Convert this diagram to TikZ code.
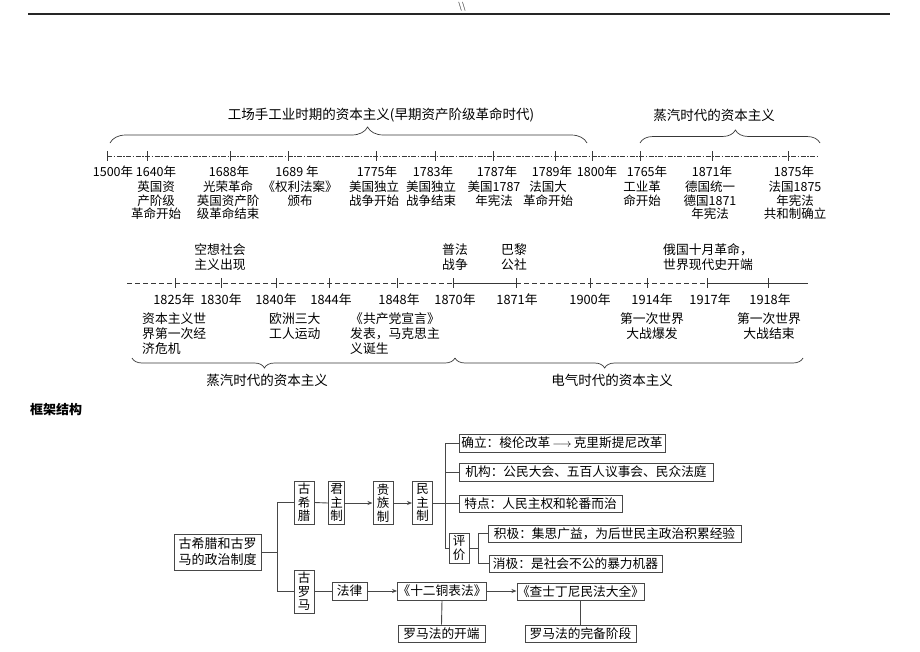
\documentclass[tikz,border=0pt]{standalone}
\usepackage{fontspec}
\setmainfont{Noto Sans CJK SC}
\usetikzlibrary{decorations.pathreplacing,arrows.meta}
\begin{document}
\begin{tikzpicture}[x=1pt,y=-1pt,
  ink/.style={draw=black!78},
  tlone/.style={ink,line width=0.8pt,dash pattern=on 5pt off 1.5pt on 1.5pt off 1.5pt},
  tltwo/.style={ink,line width=0.8pt,dash pattern=on 5pt off 3pt},
  tlsolid/.style={ink,line width=0.8pt},
  tickmark/.style={ink,line width=0.8pt},
  lbl/.style={font=\fontsize{12.5}{13.5}\selectfont,align=center,inner sep=0pt,text=black},
  lbltwo/.style={font=\fontsize{12.8}{15}\selectfont,align=center,inner sep=0pt,text=black},
  ttl/.style={font=\fontsize{13.5}{15}\selectfont,inner sep=0pt,text=black},
  brc/.style={ink,line width=0.7pt,decorate},
  box/.style={draw=black!72,line width=1pt,inner sep=0pt,align=center,font=\fontsize{12.7}{13.8}\selectfont,text=black},
  conn/.style={draw=black!72,line width=0.9pt},
  arr/.style={conn,-{Stealth[length=5pt,width=4pt]}}
]
\useasboundingbox (0,0) rectangle (920,651);
% header
\node[inner sep=0pt,font=\fontsize{9}{9}\selectfont\rmfamily,text=black!80] (hdr) at (462,6.5) {\textbackslash\textbackslash};
\coordinate (hl) at (28,14);
\coordinate (hr) at (890,14);
\draw[black!85,line width=1.1pt] (hl) -- (hr);

% ---------- timeline 1 ----------
\foreach \n/\x in {0/107,1/147,2/230,3/288,4/376,5/435,6/493,7/555,8/592,9/640,10/712,11/788}
  \coordinate (A\n) at (\x,156);
\coordinate (Aend) at (818,156);
\draw[tlone] (A0) -- (Aend);
\foreach \n in {0,...,11} \draw[tickmark] ([yshift=5pt]A\n) -- ([yshift=-5pt]A\n);

\node[lbl] (y1500) at (113,172) {1500年};
\node[lbl] (y1640) at (156,172) {1640年};
\node[lbl,anchor=north] (d1640) at (156,181) {英国资\\产阶级\\革命开始};
\node[lbl] (y1688) at (229,172) {1688年};
\node[lbl,anchor=north] (d1688) at (228,181) {光荣革命\\英国资产阶\\级革命结束};
\node[lbl] (y1689) at (297,172) {1689 年};
\node[lbl,anchor=north] (d1689) at (300,181) {《权利法案》\\颁布};
\node[lbl] (y1775) at (377,172) {1775年};
\node[lbl,anchor=north] (d1775) at (374,181) {美国独立\\战争开始};
\node[lbl] (y1783) at (433,172) {1783年};
\node[lbl,anchor=north] (d1783) at (431,181) {美国独立\\战争结束};
\node[lbl] (y1787) at (497,172) {1787年};
\node[lbl,anchor=north] (d1787) at (494,181) {美国1787\\年宪法};
\node[lbl] (y1789) at (552,172) {1789年};
\node[lbl,anchor=north] (d1789) at (548,181) {法国大\\革命开始};
\node[lbl] (y1800) at (597,172) {1800年};
\node[lbl] (y1765) at (647,172) {1765年};
\node[lbl,anchor=north] (d1765) at (642,181) {工业革\\命开始};
\node[lbl] (y1871a) at (712,172) {1871年};
\node[lbl,anchor=north] (d1871a) at (710,181) {德国统一\\德国1871\\年宪法};
\node[lbl] (y1875) at (794,172) {1875年};
\node[lbl,anchor=north] (d1875) at (795,181) {法国1875\\年宪法\\共和制确立};

% top braces
\coordinate (b1l) at (110,143); \coordinate (b1r) at (587,143);
\draw[brc,decoration={brace,amplitude=16pt,aspect=0.54}] (b1l) -- (b1r);
\node[ttl] (t1) at (381,115) {工场手工业时期的资本主义(早期资产阶级革命时代)};
\coordinate (b2l) at (640,143); \coordinate (b2r) at (820,143);
\draw[brc,decoration={brace,amplitude=13pt,aspect=0.53}] (b2l) -- (b2r);
\node[ttl] (t2) at (714,115) {蒸汽时代的资本主义};

% ---------- timeline 2 ----------
\coordinate (B0) at (127,283);
\foreach \n/\x in {1/175,2/221,3/276,4/329,5/397,6/453,7/516,8/590,9/647,10/707,11/768}
  \coordinate (B\n) at (\x,283);
\coordinate (Bend) at (808,283);
\draw[tltwo] (B0) -- (B6);
\draw[tlsolid] (B6) -- (B7);
\draw[tltwo] (B7) -- (B10);
\draw[tlsolid] (B10) -- (Bend);
\foreach \n in {1,...,11} \draw[tickmark] ([yshift=5pt]B\n) -- ([yshift=-5pt]B\n);

\node[lbltwo] (u1830) at (220,257.5) {空想社会\\主义出现};
\node[lbltwo] (u1870) at (455,257.5) {普法\\战争};
\node[lbltwo] (u1871) at (514,257.5) {巴黎\\公社};
\node[lbltwo] (u1917) at (708,257.5) {俄国十月革命，\\世界现代史开端};

\node[lbltwo] (z1825) at (174,300) {1825年};
\node[lbltwo] (z1830) at (221,300) {1830年};
\node[lbltwo] (z1840) at (276,300) {1840年};
\node[lbltwo] (z1844) at (331,300) {1844年};
\node[lbltwo] (z1848) at (399,300) {1848年};
\node[lbltwo] (z1870) at (455,300) {1870年};
\node[lbltwo] (z1871) at (517,300) {1871年};
\node[lbltwo] (z1900) at (590,300) {1900年};
\node[lbltwo] (z1914) at (652,300) {1914年};
\node[lbltwo] (z1917) at (710,300) {1917年};
\node[lbltwo] (z1918) at (770,300) {1918年};

\node[lbltwo,align=left,anchor=north west] (w1825) at (142,312.5) {资本主义世\\界第一次经\\济危机};
\node[lbltwo,align=left,anchor=north west] (w1840) at (269,312.5) {欧洲三大\\工人运动};
\node[lbltwo,align=left,anchor=north west] (w1848) at (350,312.5) {《共产党宣言》\\发表，马克思主\\义诞生};
\node[lbltwo,anchor=north] (w1914) at (652,312.5) {第一次世界\\大战爆发};
\node[lbltwo,anchor=north] (w1918) at (769,312.5) {第一次世界\\大战结束};

% bottom braces
\coordinate (c1l) at (132,358); \coordinate (c1r) at (455,358);
\draw[brc,decoration={brace,mirror,amplitude=10pt,aspect=0.41}] (c1l) -- (c1r);
\node[ttl] (s1) at (267,380) {蒸汽时代的资本主义};
\coordinate (c2l) at (455,358); \coordinate (c2r) at (803,358);
\draw[brc,decoration={brace,mirror,amplitude=10pt,aspect=0.43}] (c2l) -- (c2r);
\node[ttl] (s2) at (612,380) {电气时代的资本主义};

% ---------- framework ----------
\node[inner sep=0pt,font=\fontsize{13}{14}\selectfont\bfseries] (kj) at (56,410) {框架结构};

\node[box,minimum width=87pt,minimum height=36pt,font=\fontsize{13}{16}\selectfont] (R) at (217.5,552) {古希腊和古罗\\马的政治制度};
\node[box,minimum width=20pt,minimum height=43pt,font=\fontsize{12.5}{13.5}\selectfont] (G) at (304,502.5) {古\\希\\腊};
\node[box,minimum width=16pt,minimum height=43pt,font=\fontsize{12.5}{13.5}\selectfont] (J) at (336.5,503) {君\\主\\制};
\node[box,minimum width=20pt,minimum height=43pt,font=\fontsize{12.5}{13.5}\selectfont] (Ar) at (383,503) {贵\\族\\制};
\node[box,minimum width=20pt,minimum height=43pt,font=\fontsize{12.5}{13.5}\selectfont] (D) at (422.5,503) {民\\主\\制};
\node[box,minimum width=20pt,minimum height=43pt,font=\fontsize{12.5}{13.5}\selectfont] (Ro) at (304,591.5) {古\\罗\\马};
\node[box,minimum width=35pt,minimum height=18pt] (L) at (349.5,591) {法律};
\node[box,minimum width=86pt,minimum height=18pt] (T12) at (442,591) {《十二铜表法》};
\node[box,minimum width=87pt,minimum height=17pt] (Beg) at (441.5,633.5) {罗马法的开端};
\node[box,minimum width=127pt,minimum height=17pt] (Jus) at (580.5,591.5) {《查士丁尼民法大全》};
\node[box,minimum width=111pt,minimum height=17pt] (Comp) at (580.5,633.5) {罗马法的完备阶段};

\node[box,minimum width=206pt,minimum height=18pt] (Q1) at (562,443) {确立：梭伦改革\,$\longrightarrow$\,克里斯提尼改革};
\node[box,minimum width=254pt,minimum height=18pt] (Q2) at (586,472) {机构：公民大会、五百人议事会、民众法庭};
\node[box,minimum width=163pt,minimum height=17pt] (Q3) at (540.5,503.5) {特点：人民主权和轮番而治};
\node[box,minimum width=20pt,minimum height=30pt,font=\fontsize{12.5}{13.5}\selectfont] (P) at (459,548) {评\\价};
\node[box,minimum width=253pt,minimum height=17pt] (Pos) at (614.5,533.5) {积极：集思广益，为后世民主政治积累经验};
\node[box,minimum width=173pt,minimum height=17pt] (Neg) at (575.5,563.5) {消极：是社会不公的暴力机器};

\coordinate (j1) at (277,552);
\draw[conn] (R.east) -- (j1);
\draw[conn] (j1) |- (G.west);
\draw[conn] (j1) |- (Ro.west);
\draw[conn] (G.east) -- (J.west);
\draw[arr] (J.east) -- (Ar.west);
\draw[arr] (Ar.east) -- (D.west);
\coordinate (j2) at (445,503);
\draw[conn] (D.east) -- (j2);
\draw[conn] (j2) |- (Q1.west);
\draw[conn] (j2) |- (Q2.west);
\draw[conn] (j2) |- (P.west);
\draw[conn] (j2) -- (j2 -| Q3.west);
\coordinate (j3) at (478,548);
\draw[conn] (P.east) -- (j3);
\draw[conn] (j3) |- (Pos.west);
\draw[conn] (j3) |- (Neg.west);
\draw[conn] (Ro.east) -- (Ro.east -| L.west);
\draw[arr] (L.east) -- (T12.west);
\draw[arr] (T12.east) -- (T12.east -| Jus.west);
\draw[conn] (T12.south) -- (Beg.north);
\draw[conn] (Jus.south) -- (Comp.north);
\end{tikzpicture}
\end{document}
